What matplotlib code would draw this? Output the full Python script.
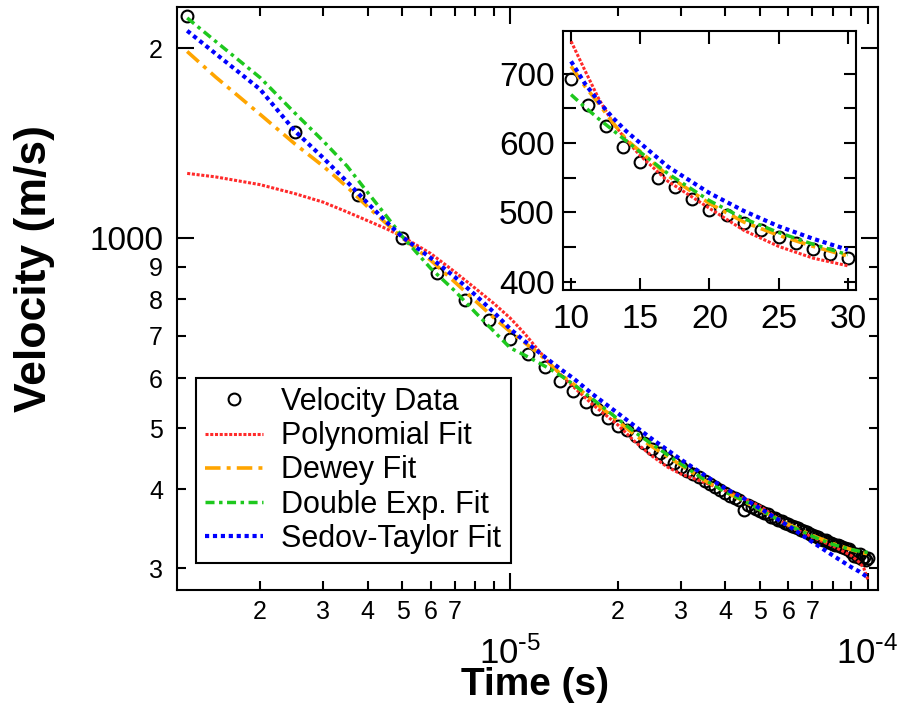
import matplotlib
matplotlib.use('Agg')
import matplotlib.pyplot as plt
from matplotlib.ticker import FixedLocator, FixedFormatter

plt.rcParams['font.family'] = ['Liberation Sans', 'DejaVu Sans']
plt.rcParams['mathtext.default'] = 'regular'

# measured velocity (time in microseconds, velocity in m/s)
data_t = [1.25, 2.5, 3.75, 5, 6.25, 7.5, 8.75, 10, 11.25, 12.5, 13.75, 15, 16.25, 17.5,
          18.75, 20, 21.25, 22.5, 23.75, 25, 26.25, 27.5, 28.75, 30, 31.25, 32.5, 33.75,
          35, 36.25, 37.5, 38.75, 40, 41.25, 42.5, 43.75, 45, 46.25, 47.5, 48.75, 50,
          51.25, 52.5, 53.75, 55, 56.25, 57.5, 58.75, 60, 61.25, 62.5, 63.75, 65, 66.25,
          67.5, 68.75, 70, 71.25, 72.5, 73.75, 75, 76.25, 77.5, 78.75, 80, 81.25, 82.5,
          83.75, 85, 86.25, 87.5, 88.75, 90, 91.25, 92.5, 93.75, 95, 96.25, 97.5, 98.75, 100]
data_v = [2248, 1472, 1170, 1000, 881, 797, 741, 693, 655, 625, 594, 573, 550, 536,
          519, 504, 497, 485, 474, 464, 456, 447, 440, 434, 428, 423, 418,
          413, 408, 404, 399, 395, 391, 388, 384, 371, 378, 375, 372, 370,
          367, 365, 362, 360, 358, 356, 354, 352, 350, 348, 347, 345, 343,
          342, 340, 339, 337, 336, 334, 333, 332, 330, 329, 328, 327, 326,
          325, 324, 323, 322, 322, 318, 314, 316, 313, 316, 310, 312, 309, 311]

fit_t = [1.25, 1.5, 2, 2.5, 3, 3.5, 4, 4.5, 5, 6, 7, 8, 9, 10, 11, 12, 13, 14, 15, 17,
         20, 22.5, 25, 27.5, 30, 35, 40, 45, 50, 60, 70, 80, 90, 95, 97.5, 100]
poly_v = [1266, 1250, 1215, 1176, 1140, 1100, 1065, 1035, 1005, 945, 884, 832, 788, 747,
          705, 664, 630, 604, 582, 545, 506, 474, 451, 434, 423, 410, 398, 387, 376, 350,
          336, 325, 314, 306, 300, 288]
dewey_v = [1975, 1800, 1570, 1410, 1300, 1205, 1120, 1055, 1000, 922, 852, 795, 748, 711,
           682, 657, 630, 605, 588, 553, 513, 486, 467, 451, 437, 413, 396, 383, 371, 352,
           338, 328, 321, 318, 317, 316]
dexp_v = [2232, 2050, 1795, 1578, 1425, 1300, 1180, 1085, 1005, 895, 825, 762, 712, 670,
          652, 635, 619, 603, 587, 556, 517, 491, 471, 454, 439, 414, 396, 384, 371, 351,
          337, 327, 321, 319, 318, 318]
sedov_v = [2130, 1960, 1720, 1478, 1340, 1228, 1135, 1062, 1003, 930, 868, 812, 763, 718,
           686, 660, 637, 617, 600, 566, 528, 502, 480, 462, 446, 421, 401, 387, 373, 350,
           330, 314, 301, 296, 293, 290]

fits = [
    ('Polynomial Fit', poly_v, '#ff2a2a', 2.2, (0, (1, 0.55))),
    ('Dewey Fit', dewey_v, '#ffa500', 2.6, (0, (4.3, 1.7, 1.1, 1.7))),
    ('Double Exp. Fit', dexp_v, '#1ec81e', 2.5, (0, (2.6, 1.3, 1, 1.3))),
    ('Sedov-Taylor Fit', sedov_v, '#0000ff', 3.0, (0, (1, 0.9))),
]

x_minor_labels = ['2', '3', '4', '5', '6', '7', '', '']


def to_seconds(vals):
    return [v * 1e-6 for v in vals]


fig = plt.figure(figsize=(8.98, 7.10), dpi=100)
ax = fig.add_axes([0.197, 0.169, 0.781, 0.821])

ax.plot(to_seconds(data_t), data_v, 'o', ms=8.5, mfc='none', mec='black', mew=1.5,
        label='Velocity Data')
for name, vals, col, lw, ls in fits:
    ax.plot(to_seconds(fit_t), vals, color=col, lw=lw, linestyle=ls, label=name)

ax.set_xscale('log')
ax.set_yscale('log')
ax.set_xlim(1.17e-6, 1.07e-4)
ax.set_ylim(277, 2322)

# x ticks
ax.xaxis.set_major_locator(FixedLocator([1e-5, 1e-4]))
ax.xaxis.set_major_formatter(FixedFormatter([r'$10^{\text{-}5}$', r'$10^{\text{-}4}$']))
x_minor = [m * 1e-6 for m in range(2, 10)] + [m * 1e-5 for m in range(2, 10)]
ax.xaxis.set_minor_locator(FixedLocator(x_minor))
ax.xaxis.set_minor_formatter(FixedFormatter(x_minor_labels * 2))

# y ticks
ax.yaxis.set_major_locator(FixedLocator([1000, 2000]))
ax.yaxis.set_major_formatter(FixedFormatter(['1000', '2']))
ax.yaxis.set_minor_locator(FixedLocator([300, 400, 500, 600, 700, 800, 900]))
ax.yaxis.set_minor_formatter(FixedFormatter(['3', '4', '5', '6', '7', '8', '9']))

ax.tick_params(which='both', direction='in', top=True, right=True, width=1.5)
ax.tick_params(which='major', length=12)
ax.tick_params(which='minor', length=6.5)
ax.tick_params(axis='x', which='minor', labelsize=18, pad=7)
ax.tick_params(axis='x', which='major', labelsize=25, pad=33)
ax.tick_params(axis='y', which='both', labelsize=18, pad=10)
for lab in ax.yaxis.get_majorticklabels():
    if lab.get_text() == '1000':
        lab.set_fontsize(24)
for s in ax.spines.values():
    s.set_linewidth(1.5)

ax.set_xlabel('Time (s)', fontsize=28, fontweight='bold', va='center')
ax.xaxis.set_label_coords(0.511, -0.163)
ax.set_ylabel('Velocity (m/s)', fontsize=32, fontweight='bold', va='center')
ax.yaxis.set_label_coords(-0.2026, 0.552)

leg = ax.legend(loc='lower left', bbox_to_anchor=(0.027, 0.046), borderaxespad=0,
                fontsize=22, handlelength=1.9, labelspacing=0.14, fancybox=False,
                framealpha=1, edgecolor='black', handletextpad=0.6, borderpad=0.3)
leg.get_frame().set_linewidth(1.5)

# inset: linear zoom on 10-30 microseconds
ins = fig.add_axes([0.627, 0.5915, 0.326, 0.365])
i0, i1 = fit_t.index(10), fit_t.index(30) + 1
ins.plot(data_t, data_v, 'o', ms=8.5, mfc='none', mec='black', mew=1.5)
for name, vals, col, lw, ls in fits:
    ins.plot(fit_t[i0:i1], vals[i0:i1], color=col, lw=lw, linestyle=ls)
ins.set_xlim(9.42, 30.58)
ins.set_ylim(388, 762)
ins.set_xticks([10, 15, 20, 25, 30])
ins.set_yticks([400, 500, 600, 700])
ins.set_yticks([450, 550, 650], minor=True)
ins.tick_params(which='both', direction='in', top=True, right=True, width=1.5,
                length=9, labelsize=24)
ins.tick_params(axis='y', pad=6)
ins.tick_params(axis='x', pad=10)
for s in ins.spines.values():
    s.set_linewidth(1.5)

fig.savefig('out.png', dpi=100)
